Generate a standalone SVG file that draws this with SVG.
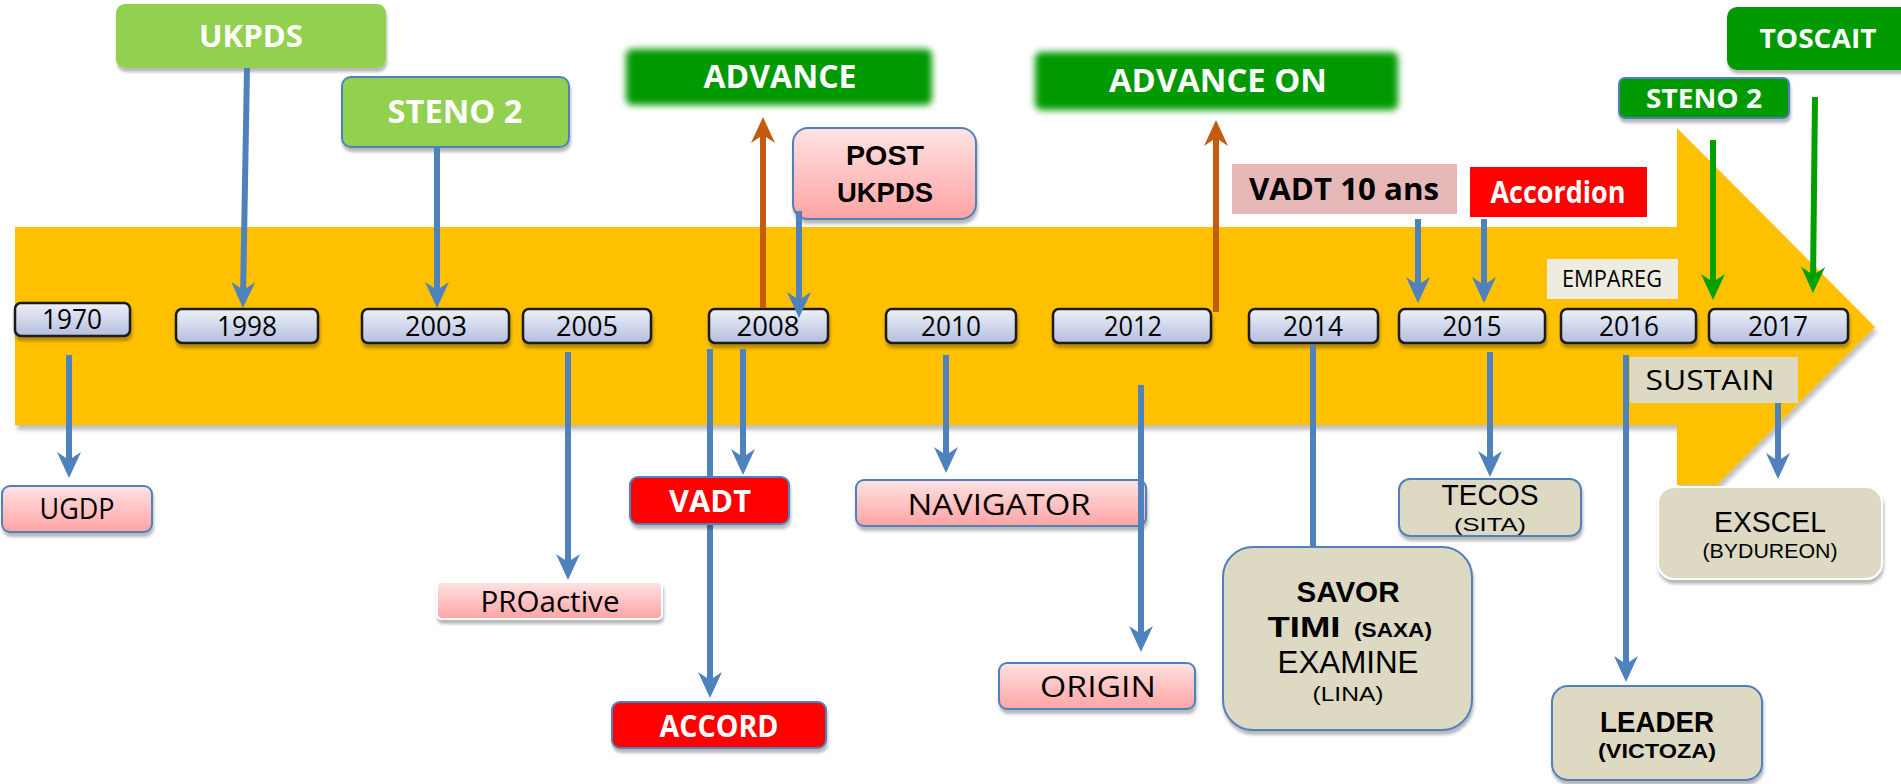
<svg xmlns="http://www.w3.org/2000/svg" width="1901" height="784" viewBox="0 0 1901 784">
<defs>
<linearGradient id="gYear" x1="0" y1="0" x2="0" y2="1"><stop offset="0" stop-color="#eef1f9"/><stop offset="1" stop-color="#b4bedd"/></linearGradient>
<linearGradient id="gPink" x1="0" y1="0" x2="0" y2="1"><stop offset="0" stop-color="#ffe3e3"/><stop offset="1" stop-color="#ffa3a3"/></linearGradient>
<filter id="sh" x="-10%" y="-20%" width="120%" height="160%"><feDropShadow dx="1" dy="4" stdDeviation="1.5" flood-color="#000" flood-opacity="0.28"/></filter>
<filter id="shBar" x="-2%" y="-10%" width="104%" height="130%"><feDropShadow dx="2" dy="5" stdDeviation="2" flood-color="#000" flood-opacity="0.25"/></filter>
<filter id="soft" x="-10%" y="-30%" width="120%" height="160%"><feGaussianBlur stdDeviation="3.5"/></filter>
<marker id="aB" viewBox="0 0 26 24" refX="16" refY="12" markerWidth="26" markerHeight="24" markerUnits="userSpaceOnUse" orient="auto"><path d="M0,0 L26,12 L0,24 L8,12 z" fill="#4f81bd"/></marker>
<marker id="aO" viewBox="0 0 26 24" refX="16" refY="12" markerWidth="26" markerHeight="24" markerUnits="userSpaceOnUse" orient="auto"><path d="M0,0 L26,12 L0,24 L8,12 z" fill="#c55a11"/></marker>
<marker id="aG" viewBox="0 0 26 24" refX="16" refY="12" markerWidth="26" markerHeight="24" markerUnits="userSpaceOnUse" orient="auto"><path d="M0,0 L26,12 L0,24 L8,12 z" fill="#00a000"/></marker>
</defs>
<style>
text{font-family:"Open Sans","DejaVu Sans",sans-serif;text-anchor:middle;}
.ml text{font-family:"Liberation Sans","DejaVu Sans",sans-serif;}
.yr rect{fill:url(#gYear);stroke:#1a1a1a;stroke-width:2.5;filter:url(#sh);}
.yr text{font-size:28px;fill:#000;}
.pink{fill:url(#gPink);stroke:#4f81bd;stroke-width:2;filter:url(#sh);}
.tan{fill:#ddd9c3;stroke:#4f81bd;stroke-width:2;filter:url(#sh);}
.red{fill:#ff0000;stroke:#4f81bd;stroke-width:2;filter:url(#sh);}
.lg{fill:#92d050;filter:url(#sh);}
.dg{fill:#009900;}
.w{fill:#fff;font-weight:700;}
.k{fill:#000;}
.b{font-weight:700;}
.cb{fill:none;stroke:#4f81bd;stroke-width:6;marker-end:url(#aB);}
.co{fill:none;stroke:#c55a11;stroke-width:6;marker-end:url(#aO);}
.cg{fill:none;stroke:#00a000;stroke-width:6;marker-end:url(#aG);}
</style>
<rect width="1901" height="784" fill="#fff"/>
<polygon id="timeline-arrow" points="15,227 1677,227 1677,128 1875,327 1717,485 1677,485 1677,425 15,425" fill="#ffc000" filter="url(#shBar)"/>

<g id="y1970" class="yr"><rect x="15" y="303" width="115" height="33" rx="6"/><text x="72" y="329" textLength="60" lengthAdjust="spacingAndGlyphs">1970</text></g>
<g id="y1998" class="yr"><rect x="176" y="309" width="142" height="34" rx="6"/><text x="247" y="336" textLength="60" lengthAdjust="spacingAndGlyphs">1998</text></g>
<g id="y2003" class="yr"><rect x="362" y="309" width="147" height="34" rx="6"/><text x="436" y="336" textLength="62" lengthAdjust="spacingAndGlyphs">2003</text></g>
<g id="y2005" class="yr"><rect x="523" y="309" width="128" height="34" rx="6"/><text x="587" y="336" textLength="62" lengthAdjust="spacingAndGlyphs">2005</text></g>
<g id="y2008" class="yr"><rect x="709" y="309" width="119" height="34" rx="6"/><text x="768" y="336" textLength="63" lengthAdjust="spacingAndGlyphs">2008</text></g>
<g id="y2010" class="yr"><rect x="886" y="309" width="130" height="34" rx="6"/><text x="951" y="336" textLength="60" lengthAdjust="spacingAndGlyphs">2010</text></g>
<g id="y2012" class="yr"><rect x="1053" y="309" width="158" height="34" rx="6"/><text x="1133" y="336" textLength="58" lengthAdjust="spacingAndGlyphs">2012</text></g>
<g id="y2014" class="yr"><rect x="1249" y="309" width="129" height="34" rx="6"/><text x="1313" y="336" textLength="60" lengthAdjust="spacingAndGlyphs">2014</text></g>
<g id="y2015" class="yr"><rect x="1399" y="309" width="146" height="34" rx="6"/><text x="1472" y="336" textLength="59" lengthAdjust="spacingAndGlyphs">2015</text></g>
<g id="y2016" class="yr"><rect x="1561" y="309" width="135" height="34" rx="6"/><text x="1629" y="336" textLength="60" lengthAdjust="spacingAndGlyphs">2016</text></g>
<g id="y2017" class="yr"><rect x="1709" y="309" width="139" height="34" rx="6"/><text x="1778" y="336" textLength="60" lengthAdjust="spacingAndGlyphs">2017</text></g>

<g id="ukpds"><rect class="lg" x="116" y="4" width="270" height="64" rx="9"/><text class="w" x="251" y="47" font-size="31" textLength="104" lengthAdjust="spacingAndGlyphs">UKPDS</text></g>
<g id="steno2-a"><rect class="lg" x="342" y="77" width="227" height="70" rx="9" stroke="#4f81bd" stroke-width="2"/><text class="w" x="455" y="123" font-size="32" textLength="135" lengthAdjust="spacingAndGlyphs">STENO 2</text></g>
<g id="advance"><rect class="dg" x="626" y="49" width="306" height="56" rx="6" filter="url(#soft)"/><text class="w" x="780" y="88" font-size="32" textLength="153" lengthAdjust="spacingAndGlyphs">ADVANCE</text></g>
<g id="advance-on"><rect class="dg" x="1035" y="52" width="363" height="58" rx="6" filter="url(#soft)"/><text class="w" x="1218" y="92" font-size="32" textLength="218" lengthAdjust="spacingAndGlyphs">ADVANCE ON</text></g>
<g id="post-ukpds" class="ml"><rect class="pink" x="793" y="128" width="183" height="91" rx="15"/><text class="k b" x="885" y="165" font-size="28" textLength="78" lengthAdjust="spacingAndGlyphs">POST</text><text class="k b" x="885" y="202" font-size="28" textLength="96" lengthAdjust="spacingAndGlyphs">UKPDS</text></g>
<g id="vadt10"><rect x="1232" y="164" width="225" height="50" fill="#e6b9b8"/><text class="k b" x="1344" y="200" font-size="31" textLength="190" lengthAdjust="spacingAndGlyphs">VADT 10 ans</text></g>
<g id="accordion"><rect x="1470" y="167" width="177" height="50" fill="#ff0000"/><text class="w" x="1558" y="203" font-size="30" textLength="135" lengthAdjust="spacingAndGlyphs">Accordion</text></g>
<g id="steno2-b"><rect class="dg" x="1619" y="78" width="170" height="40" rx="6" stroke="#4f81bd" stroke-width="2" filter="url(#sh)"/><text class="w" x="1704" y="108" font-size="26" textLength="116" lengthAdjust="spacingAndGlyphs">STENO 2</text></g>
<g id="toscait"><rect class="dg" x="1727" y="7" width="200" height="63" rx="10" filter="url(#sh)"/><text class="w" x="1818" y="48" font-size="26" textLength="117" lengthAdjust="spacingAndGlyphs">TOSCAIT</text></g>
<g id="empareg"><rect x="1547" y="259" width="131" height="40" fill="#eeece1"/><text class="k" x="1612" y="287" font-size="23" textLength="100" lengthAdjust="spacingAndGlyphs">EMPAREG</text></g>

<g id="ugdp"><rect class="pink" x="2" y="486" width="150" height="46" rx="8"/><text class="k" x="77" y="519" font-size="30" textLength="75" lengthAdjust="spacingAndGlyphs">UGDP</text></g>
<g id="proactive"><rect x="437" y="582" width="225" height="37" rx="5" fill="url(#gPink)" stroke="#fff" stroke-width="2" filter="url(#sh)"/><text class="k" x="550" y="612" font-size="30" textLength="139" lengthAdjust="spacingAndGlyphs">PROactive</text></g>
<g id="accord"><rect class="red" x="612" y="702" width="214" height="46" rx="8"/><text class="w" x="719" y="737" font-size="30" textLength="119" lengthAdjust="spacingAndGlyphs">ACCORD</text></g>
<g id="navigator"><rect class="pink" x="856" y="480" width="290" height="46" rx="8"/><text class="k" x="999" y="515" font-size="30" textLength="183" lengthAdjust="spacingAndGlyphs">NAVIGATOR</text></g>
<g id="origin"><rect class="pink" x="999" y="663" width="196" height="46" rx="8"/><text class="k" x="1098" y="697" font-size="29" textLength="116" lengthAdjust="spacingAndGlyphs">ORIGIN</text></g>
<g id="tecos" class="ml"><rect class="tan" x="1399" y="479" width="182" height="57" rx="11"/><text class="k" x="1490" y="505" font-size="30" textLength="97" lengthAdjust="spacingAndGlyphs">TECOS</text><text class="k" x="1490" y="531" font-size="19" textLength="72" lengthAdjust="spacingAndGlyphs">(SITA)</text></g>
<g id="exscel" class="ml"><rect x="1658" y="487" width="224" height="92" rx="16" fill="#ddd9c3" stroke="#fff" stroke-width="2" filter="url(#sh)"/><text class="k" x="1770" y="532" font-size="30" textLength="112" lengthAdjust="spacingAndGlyphs">EXSCEL</text><text class="k" x="1770" y="558" font-size="21" textLength="135" lengthAdjust="spacingAndGlyphs">(BYDUREON)</text></g>
<g id="leader" class="ml"><rect class="tan" x="1552" y="686" width="210" height="94" rx="16"/><text class="k b" x="1657" y="732" font-size="30" textLength="114" lengthAdjust="spacingAndGlyphs">LEADER</text><text class="k b" x="1657" y="758" font-size="20" textLength="118" lengthAdjust="spacingAndGlyphs">(VICTOZA)</text></g>

<g id="connectors">
<path class="cb" d="M247,68 L243,298"/>
<path class="cb" d="M437,147 L437,298"/>
<path class="cb" d="M69,355 L69,468"/>
<path class="cb" d="M568,352 L568,570"/>
<path class="cb" d="M710,349 L710,688"/>
<path class="cb" d="M743,349 L743,465"/>
<path class="cb" d="M799,211 L799,308"/>
<path class="cb" d="M946,355 L946,463"/>
<path class="cb" d="M1141,385 L1141,642"/>
<path d="M1313,345 L1313,550" fill="none" stroke="#4f81bd" stroke-width="6"/>
<path class="cb" d="M1418,219 L1418,293"/>
<path class="cb" d="M1484,219 L1484,293"/>
<path class="cb" d="M1490,352 L1490,467"/>
<path class="cb" d="M1626,355 L1626,672"/>
<path class="cb" d="M1778,360 L1778,469"/>
<path class="co" d="M763,308 L763,127"/>
<path class="co" d="M1216,312 L1216,130"/>
<path class="cg" d="M1713,140 L1713,290"/>
<path class="cg" d="M1815,97 L1813,283"/>
</g>

<g id="vadt"><rect class="red" x="630" y="477" width="159" height="47" rx="8"/><text class="w" x="710" y="512" font-size="30" textLength="82" lengthAdjust="spacingAndGlyphs">VADT</text></g>
<g id="savor" class="ml"><rect class="tan" x="1223" y="547" width="249" height="183" rx="30"/>
<text class="k b" x="1348" y="602" font-size="30" textLength="103" lengthAdjust="spacingAndGlyphs">SAVOR</text>
<text class="k b" x="1304" y="637" font-size="30" textLength="73" lengthAdjust="spacingAndGlyphs">TIMI</text>
<text class="k b" x="1393" y="637" font-size="20" textLength="78" lengthAdjust="spacingAndGlyphs">(SAXA)</text>
<text class="k" x="1348" y="673" font-size="31" textLength="141" lengthAdjust="spacingAndGlyphs">EXAMINE</text>
<text class="k" x="1348" y="701" font-size="20" textLength="71" lengthAdjust="spacingAndGlyphs">(LINA)</text></g>
<g id="sustain"><rect x="1630" y="357" width="168" height="46" fill="#ddd9c3"/><text class="k" x="1710" y="390" font-size="27" textLength="129" lengthAdjust="spacingAndGlyphs">SUSTAIN</text></g>
</svg>
